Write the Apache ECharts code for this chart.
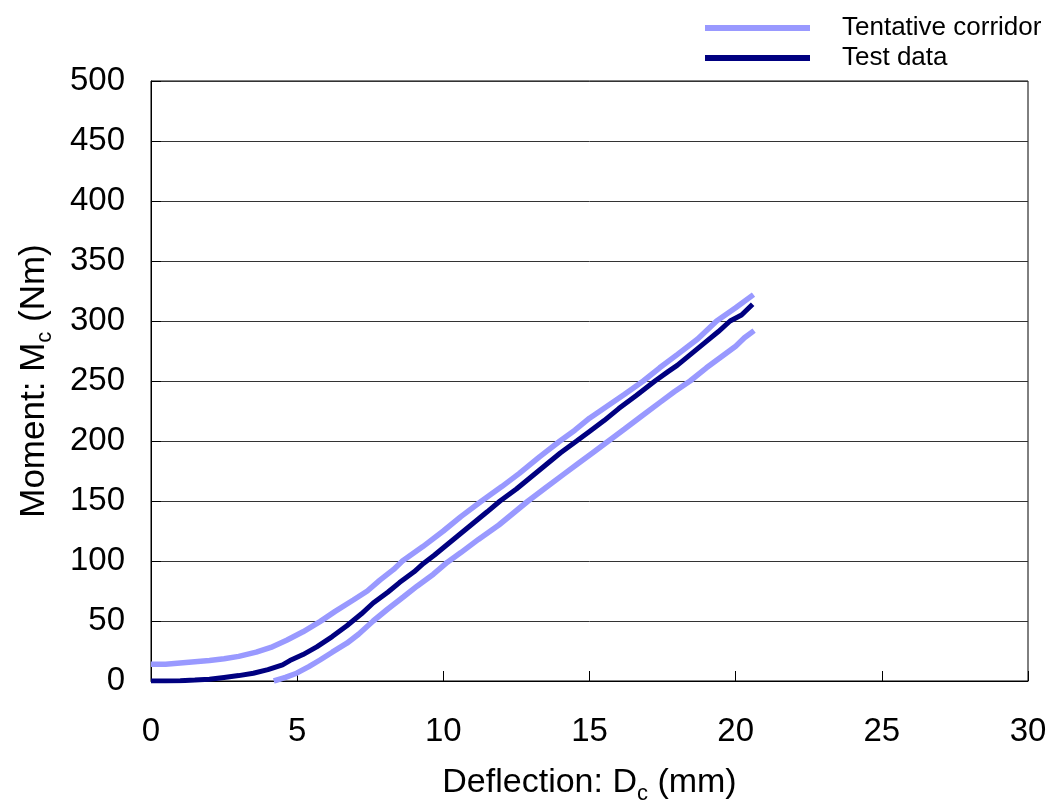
<!DOCTYPE html>
<html>
<head>
<meta charset="utf-8">
<script src="https://cdn.jsdelivr.net/npm/echarts@6/dist/echarts.min.js"></script>
<style>html,body{margin:0;padding:0;background:#fff}#c{width:1053px;height:808px}</style>
</head>
<body>
<div id="c"></div>
<script>
// Test data
var testX = [0,0.5,1,1.5,2,2.5,3,3.5,4,4.5,4.75,5.2,5.67,6.2,6.7,7.2,7.6,8.1,8.5,9,9.32,9.7,10,10.5,11,11.5,11.94,12.5,13,13.5,14,14.56,15,15.5,16,16.6,17.24,17.7,18,18.5,19,19.4,19.81,20.2,20.58];
var testY = [0,0,0.3,0.8,1.5,3,4.5,6.5,9.5,13.5,17,22,28.5,37,46,56,65,74,82,91,98,105,111,121,131,141,150,160,170,180,190,200,208,217,227,238,250,258,263,273,283,291,300,305,314];
// Tentative corridor, upper bound
var upperX = [0,0.5,1,1.5,2,2.5,3,3.6,4.1,4.64,5.2,5.78,6.3,6.92,7.4,7.83,8.3,8.6,9.3,10,10.6,11.31,12,12.6,13.3,13.99,14.5,15,15.6,16.2,16.84,17.4,18,18.7,19.35,20,20.61];
var upperY = [14,14,15,16,17,18.5,20.5,24,28,34,41,49.5,58,67.5,75,84,93,100,112,125,137,150,162,173,187,200,209,219,229,239,250,261,272,285,300,311,322];
// Tentative corridor, lower bound
var lowerX = [4.2,4.6,4.98,5.4,5.78,6.2,6.7,7.1,7.6,8.1,8.63,9.1,9.66,10.14,10.6,11.2,11.9,12.4,12.9,13.5,14.1,14.6,15.1,15.65,16.2,16.8,17.4,17.9,18.44,19,19.5,20,20.3,20.63];
var lowerY = [0,3,6.5,12,17.5,24,31.5,39,50,60,70,79,89,99,107,118,130,140,150,161,172,181,190,200,210,221,232,241,250,261,270,279,286,292];
var xTicks = [0,5,10,15,20,25,30];
var yTicks = [0,50,100,150,200,250,300,350,400,450,500];

function zip(a, b) { return a.map(function (v, i) { return [v, b[i]]; }); }

var FONT = 'Liberation Sans, Arial, sans-serif';
var chart = echarts.init(document.getElementById('c'), null, { renderer: 'canvas' });
var corridorColor = '#9999FF';
var testColor = '#000080';

chart.setOption({
  animation: false,
  backgroundColor: '#ffffff',
  textStyle: { fontFamily: FONT, color: '#000' },
  grid: { left: 151, right: 25, top: 81, bottom: 127, containLabel: false, outerBoundsMode: 'none',
    show: true, borderColor: '#000', borderWidth: 1, backgroundColor: '#fff' },
  legend: [
    {
      data: [{ name: 'Tentative corridor', icon: 'rect' }],
      left: 705, top: 5, padding: 0, itemWidth: 105, itemHeight: 6,
      textStyle: { fontSize: 26, fontFamily: FONT, color: '#000', lineHeight: 28, padding: [0, 0, 18, 27] },
      selectedMode: false
    },
    {
      data: [{ name: 'Test data', icon: 'rect' }],
      left: 705, top: 40, padding: 0, itemWidth: 105, itemHeight: 6,
      textStyle: { fontSize: 26, fontFamily: FONT, color: '#000', lineHeight: 28, padding: [0, 0, 8, 27] },
      selectedMode: false
    }
  ],
  xAxis: {
    type: 'value', min: xTicks[0], max: xTicks[xTicks.length - 1], interval: 5,
    name: 'Deflection: D{s|c} (mm)', nameLocation: 'middle', nameGap: 82,
    nameTextStyle: { fontSize: 34, fontFamily: FONT, color: '#000', lineHeight: 40,
      rich: { s: { fontSize: 22, fontFamily: FONT, color: '#000', lineHeight: 19, padding: [21, 0, 0, 0] } } },
    axisLine: { show: true, onZero: false, lineStyle: { color: '#000', width: 1 } },
    axisTick: { show: true, inside: true, length: 10, lineStyle: { color: '#000' } },
    axisLabel: { fontSize: 33, fontFamily: FONT, color: '#000', margin: 34 },
    splitLine: { show: false }
  },
  yAxis: {
    type: 'value', min: yTicks[0], max: yTicks[yTicks.length - 1], interval: 50,
    name: 'Moment: M{s|c} (Nm)', nameLocation: 'middle', nameGap: 96, nameRotate: 90,
    nameTextStyle: { fontSize: 35, fontFamily: FONT, color: '#000', lineHeight: 42,
      rich: { s: { fontSize: 22, fontFamily: FONT, color: '#000', lineHeight: 20, padding: [22, 0, 0, 0] } } },
    axisLine: { show: true, onZero: false, lineStyle: { color: '#000', width: 1 } },
    axisTick: { show: true, inside: true, length: 10, lineStyle: { color: '#000' } },
    axisLabel: { fontSize: 33, fontFamily: FONT, color: '#000', margin: 26 },
    splitLine: { show: true, lineStyle: { color: '#333', width: 1 } }
  },
  series: [
    { name: 'Tentative corridor', type: 'line', data: zip(upperX, upperY), showSymbol: false, symbol: 'none',
      lineStyle: { color: corridorColor, width: 5.5 }, itemStyle: { color: corridorColor }, z: 2 },
    { name: 'Tentative corridor', type: 'line', data: zip(lowerX, lowerY), showSymbol: false, symbol: 'none',
      lineStyle: { color: corridorColor, width: 5.5 }, itemStyle: { color: corridorColor }, z: 2 },
    { name: 'Test data', type: 'line', data: zip(testX, testY), showSymbol: false, symbol: 'none',
      lineStyle: { color: testColor, width: 5 }, itemStyle: { color: testColor }, z: 3 }
  ]
});
</script>
</body>
</html>
